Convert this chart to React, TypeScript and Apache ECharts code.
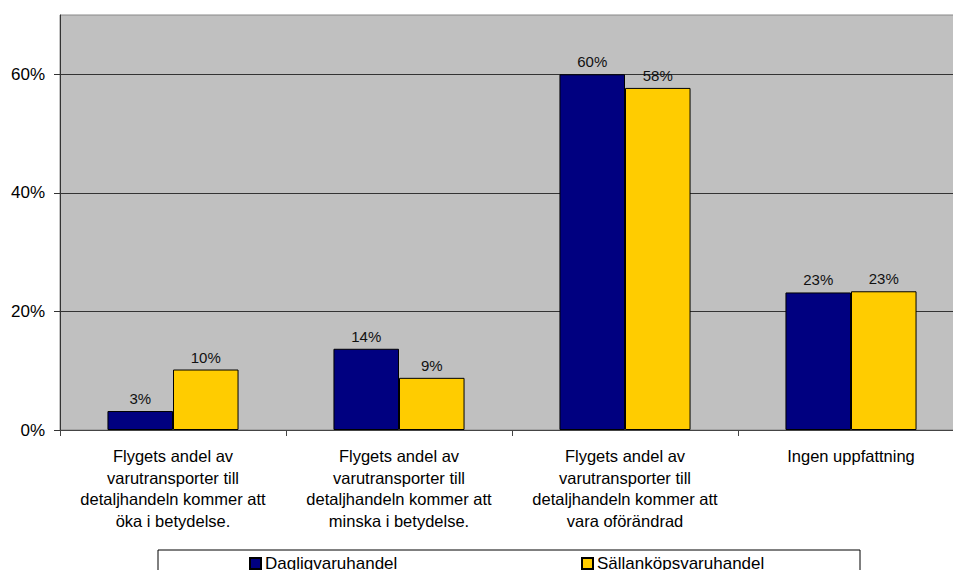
import React, { useEffect, useRef } from "react";
import * as echarts from "echarts";

const categories = [
  "Flygets andel av\nvarutransporter till\ndetaljhandeln kommer att\nöka i betydelse.",
  "Flygets andel av\nvarutransporter till\ndetaljhandeln kommer att\nminska i betydelse.",
  "Flygets andel av\nvarutransporter till\ndetaljhandeln kommer att\nvara oförändrad",
  "Ingen uppfattning",
];
const seriesNames = ["Dagligvaruhandel", "Sällanköpsvaruhandel"];
const dagligvaruhandel = [3.2, 13.7, 60.0, 23.2];
const sallankopsvaruhandel = [10.2, 8.8, 57.7, 23.4];
const yTicks = { min: 0, max: 70, interval: 20 };

const FONT = "'Liberation Sans', Arial, sans-serif";

export default function App() {
  const ref = useRef<HTMLDivElement>(null);
  useEffect(() => {
    if (!ref.current) return;
    const chart = echarts.init(ref.current, undefined, { renderer: "svg" });
    const labelCfg = {
      show: true,
      position: "top",
      distance: 5,
      fontSize: 15,
      fontFamily: FONT,
      color: "#111",
      formatter: (p: any) => Math.round(p.value) + "%",
    };
    const legendBase = {
      top: 555,
      orient: "horizontal",
      padding: 0,
      itemWidth: 11,
      itemHeight: 11,
      icon: "rect",
      textStyle: { fontSize: 17, color: "#000", fontFamily: FONT, padding: [0, 0, 0, -1] },
    };
    chart.setOption({
      animation: false,
      backgroundColor: "#fff",
      textStyle: { fontFamily: FONT },
      grid: {
        left: 60,
        top: 15,
        width: 904,
        bottom: 140,
        outerBoundsMode: "none",
        containLabel: false,
        show: true,
        backgroundColor: "#c0c0c0",
        borderColor: "#888",
        borderWidth: 1,
      },
      legend: [
        { ...legendBase, data: [seriesNames[0]], left: 249 },
        { ...legendBase, data: [seriesNames[1]], left: 581 },
      ],
      xAxis: {
        type: "category",
        data: categories,
        axisLine: { show: true, lineStyle: { color: "#444", width: 1 } },
        axisTick: { show: true, length: 6, lineStyle: { color: "#444" } },
        axisLabel: {
          interval: 0,
          fontSize: 16.5,
          lineHeight: 21.7,
          color: "#000",
          fontFamily: FONT,
          margin: 15,
        },
        splitLine: { show: false },
      },
      yAxis: {
        type: "value",
        min: yTicks.min,
        max: yTicks.max,
        interval: yTicks.interval,
        axisLine: { show: true, lineStyle: { color: "#333", width: 1 } },
        axisTick: { show: true, length: 6, lineStyle: { color: "#333" } },
        axisLabel: {
          showMaxLabel: false,
          fontSize: 17,
          color: "#000",
          fontFamily: FONT,
          margin: 15,
          formatter: (v: number) => v + "%",
        },
        splitLine: {
          show: true,
          showMaxLine: false,
          lineStyle: { color: "#333", width: 1 },
        },
      },
      series: [
        {
          name: seriesNames[0],
          type: "bar",
          data: dagligvaruhandel,
          barGap: "0%",
          barCategoryGap: "42%",
          itemStyle: { color: "#000080", borderColor: "#000", borderWidth: 1 },
          label: labelCfg,
        },
        {
          name: seriesNames[1],
          type: "bar",
          data: sallankopsvaruhandel,
          barGap: "0%",
          barCategoryGap: "42%",
          itemStyle: { color: "#ffcc00", borderColor: "#000", borderWidth: 1 },
          label: labelCfg,
        },
      ],
      graphic: [
        {
          type: "rect",
          shape: { x: 158, y: 550, width: 702, height: 40 },
          style: { fill: "none", stroke: "#000", lineWidth: 1 },
          silent: true,
        },
      ],
    });
    return () => chart.dispose();
  }, []);
  return (
    <div
      ref={ref}
      style={{ width: 953, height: 570, position: "absolute", left: 0, top: 0 }}
    />
  );
}
